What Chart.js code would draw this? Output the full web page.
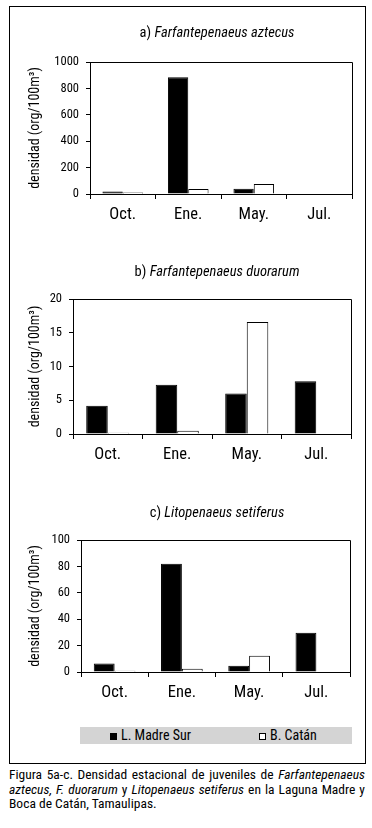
<!DOCTYPE html>
<html><head><meta charset="utf-8">
<script src="https://cdn.jsdelivr.net/npm/chart.js@4"></script>
<style>
html,body{margin:0;padding:0;background:#fff;width:372px;height:828px;overflow:hidden;position:relative;}
#frame{position:absolute;left:9px;top:6px;width:357px;height:758px;border:1px solid #000;box-sizing:border-box;}
.cv{position:absolute;left:0;}
#legend{position:absolute;left:80px;top:727px;width:272px;height:17px;background:#d4d4d4;font-family:'Roboto Condensed',sans-serif;font-size:14px;color:#000;}
.item{position:absolute;top:0;height:17px;line-height:17px;white-space:nowrap;}
.sw{position:absolute;top:6px;width:7px;height:7px;box-sizing:border-box;border:1px solid #000;}
.lt{position:absolute;top:0;}
#caption{position:absolute;left:9px;width:356px;top:767px;font-family:'Roboto Condensed',sans-serif;font-size:13.5px;line-height:14.5px;color:#000;}
.jl{text-align:justify;text-align-last:justify;}
.ll{text-align:left;}
</style>
</head><body>
<div id="frame"></div>
<canvas id="ca" class="cv" style="top:0px" width="372" height="240"></canvas>
<canvas id="cb" class="cv" style="top:240px" width="372" height="240"></canvas>
<canvas id="cc" class="cv" style="top:480px" width="372" height="240"></canvas>
<div id="legend"></div>
<div id="caption">
<div class="jl">Figura 5a-c. Densidad estacional de juveniles de <i>Farfantepenaeus</i></div>
<div class="jl"><i>aztecus, F. duorarum</i> y <i>Litopenaeus setiferus</i> en la Laguna Madre y</div>
<div class="ll">Boca de Catán, Tamaulipas.</div>
</div>
<script>
const categories = ['Oct.', 'Ene.', 'May.', 'Jul.'];
const seriesNames = ['L. Madre Sur', 'B. Catán'];
const panelPrefixes = ['a) ', 'b) ', 'c) '];
const panelSpecies = ['Farfantepenaeus aztecus', 'Farfantepenaeus duorarum', 'Litopenaeus setiferus'];
const aztecusMadre = [18, 885, 40, 0];
const aztecusCatan = [12, 38, 76, 0];
const duorarumMadre = [4.2, 7.3, 6.0, 7.8];
const duorarumCatan = [0.2, 0.5, 16.6, 0];
const setiferusMadre = [6.5, 82, 4.8, 29.7];
const setiferusCatan = [1, 2.5, 12.3, 0];
const yMaxes = [1000, 20, 100];
const yStepSizes = [200, 5, 20];
const yAxisTitle = 'densidad (org/100m\u00B3)';

const FONT = "'Roboto Condensed', sans-serif";
const seriesFill = ['#000000', '#ffffff'];

const panelTitle = {
  id: 'panelTitle',
  afterDraw(chart, args, opts) {
    const ctx = chart.ctx;
    ctx.save();
    const f1 = opts.size + 'px ' + FONT, f2 = 'italic ' + opts.size + 'px ' + FONT;
    ctx.font = f1; const w1 = ctx.measureText(opts.prefix).width;
    ctx.font = f2; const w2 = ctx.measureText(opts.species).width;
    const x = opts.x - (w1 + w2) / 2;
    ctx.textBaseline = 'middle'; ctx.fillStyle = '#000';
    ctx.font = f1; ctx.fillText(opts.prefix, x, opts.y);
    ctx.font = f2; ctx.fillText(opts.species, x + w1, opts.y);
    const a = chart.chartArea;
    ctx.strokeStyle = '#000'; ctx.lineWidth = 1;
    ctx.beginPath();
    ctx.moveTo(Math.round(a.left), Math.round(a.top) + 0.5);
    ctx.lineTo(Math.round(a.right) + 0.5, Math.round(a.top) + 0.5);
    ctx.lineTo(Math.round(a.right) + 0.5, Math.round(a.bottom) + 0.5);
    ctx.stroke();
    ctx.restore();
  }
};

function makeChart(id, i, madre, catan, L) {
  return new Chart(document.getElementById(id), {
    type: 'bar',
    data: {
      labels: categories,
      datasets: [
        {label: seriesNames[0], data: madre, backgroundColor: seriesFill[0], borderColor: '#000', borderWidth: 1,
         categoryPercentage: 0.62, barPercentage: 1.0},
        {label: seriesNames[1], data: catan, backgroundColor: seriesFill[1], borderColor: '#000', borderWidth: 1,
         categoryPercentage: 0.62, barPercentage: 1.0}
      ]
    },
    options: {
      responsive: false, animation: false,
      layout: {padding: {top: L.top, right: 372 - L.right, left: 0, bottom: 0}},
      plugins: {
        legend: {display: false}, tooltip: {enabled: false}, title: {display: false},
        panelTitle: {prefix: panelPrefixes[i], species: panelSpecies[i], x: 217, y: L.ty, size: 14.5}
      },
      scales: {
        x: {
          grid: {offset: true, drawOnChartArea: false, tickLength: 5, color: '#000'},
          border: {display: true, color: '#000', width: 1},
          ticks: {color: '#000', font: {family: FONT, size: 16.5}, padding: 6},
          afterFit: (s) => { s.height = 240 - L.bottom; }
        },
        y: {
          min: 0, max: yMaxes[i],
          grid: {drawOnChartArea: false, tickLength: 4, color: '#000'},
          border: {display: true, color: '#000', width: 1},
          ticks: {stepSize: yStepSizes[i], color: '#000', font: {family: FONT, size: 12.5}, padding: 7,
                  callback: (v) => String(v)},
          title: {display: true, text: yAxisTitle, color: '#000', font: {family: FONT, size: 14}, padding: {top: 27, bottom: 0}},
          afterFit: (s) => { s.width = L.left; }
        }
      }
    },
    plugins: [panelTitle]
  });
}

makeChart('ca', 0, aztecusMadre, aztecusCatan, {left: 90, right: 352, top: 62, bottom: 194, ty: 33});
makeChart('cb', 1, duorarumMadre, duorarumCatan, {left: 73, right: 351, top: 59, bottom: 194, ty: 32});
makeChart('cc', 2, setiferusMadre, setiferusCatan, {left: 81, right: 350, top: 60, bottom: 192, ty: 33});

const legend = document.getElementById('legend');
const legendX = [30, 179];
seriesNames.forEach((n, k) => {
  const it = document.createElement('div');
  it.className = 'item';
  it.style.left = legendX[k] + 'px';
  const sw = document.createElement('span');
  sw.className = 'sw'; sw.style.left = '0px'; sw.style.background = seriesFill[k];
  const t = document.createElement('span');
  t.className = 'lt'; t.style.left = '11px'; t.textContent = n;
  it.appendChild(sw); it.appendChild(t);
  legend.appendChild(it);
});
</script>
</body></html>
